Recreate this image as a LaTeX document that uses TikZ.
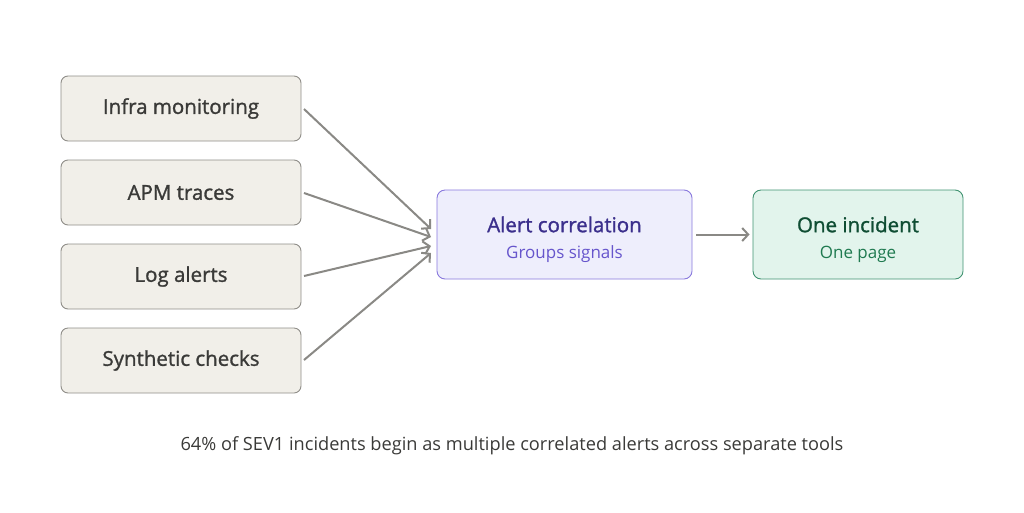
\documentclass[tikz,border=0pt]{standalone}
\usepackage{fontspec}
\setmainfont{Open Sans}
\newfontfamily\med{Open Sans}[FakeBold=1.3]
\usetikzlibrary{arrows.meta}
\definecolor{srcfill}{HTML}{F1EFE9}
\definecolor{srcdraw}{HTML}{8F8D88}
\definecolor{srctext}{HTML}{3A3A38}
\definecolor{corfill}{HTML}{EEEEFC}
\definecolor{cordraw}{HTML}{8878DD}
\definecolor{cortitle}{HTML}{3B2F8C}
\definecolor{corsub}{HTML}{6655CC}
\definecolor{incfill}{HTML}{E2F4EC}
\definecolor{incdraw}{HTML}{3F9270}
\definecolor{inctitle}{HTML}{0F4D33}
\definecolor{incsub}{HTML}{1F7A50}
\definecolor{arr}{HTML}{8A8985}
\begin{document}
\begin{tikzpicture}[x=1pt,y=-1pt,
  src/.style={draw=srcdraw,fill=srcfill,rounded corners=7pt,line width=0.9pt,minimum width=240pt,minimum height=65pt,text=srctext,font=\med\fontsize{20.5}{24}\selectfont,inner sep=0pt},
  big/.style={rounded corners=8pt,line width=0.9pt,minimum height=89pt,inner sep=0pt,align=center},
  con/.style={draw=arr,line width=2pt,-{Straight Barb[length=6pt,width=13pt]}},
]
\useasboundingbox (0,0) rectangle (1024,512);
\node[src] (a) at (181,108.5) {Infra monitoring};
\node[src] (b) at (181,192.5) {APM traces};
\node[src] (c) at (181,276.5) {Log alerts};
\node[src] (d) at (181,360.5) {Synthetic checks};
\node[big,draw=cordraw,fill=corfill,minimum width=255pt] (e) at (564.5,234.5) {};
\node[text=cortitle,font=\med\fontsize{20.5}{24}\selectfont] (et) at (564.5,224.5) {Alert correlation};
\node[text=corsub,font=\fontsize{17}{20}\selectfont] (es) at (564.5,254.5) {Groups signals};
\node[big,draw=incdraw,fill=incfill,minimum width=210pt] (f) at (858,234.5) {};
\node[text=inctitle,font=\med\fontsize{20.5}{24}\selectfont] (ft) at (858,224.5) {One incident};
\node[text=incsub,font=\fontsize{17}{20}\selectfont] (fs) at (858,254.5) {One page};
\coordinate (a1) at (304,109); \coordinate (a2) at (431,229);
\coordinate (b1) at (304,193); \coordinate (b2) at (431,237);
\coordinate (c1) at (304,276); \coordinate (c2) at (431,246);
\coordinate (d1) at (304,360); \coordinate (d2) at (431,253);
\draw[con] (a1) -- (a2);
\draw[con] (b1) -- (b2);
\draw[con] (c1) -- (c2);
\draw[con] (d1) -- (d2);
\draw[con] (e.east) ++(4,0) coordinate (e1) -- ([xshift=-3pt]f.west);
\node[text=srctext,font=\fontsize{18.2}{20}\selectfont] (cap) at (512,446) {64\% of SEV1 incidents begin as multiple correlated alerts across separate tools};
\end{tikzpicture}
\end{document}
